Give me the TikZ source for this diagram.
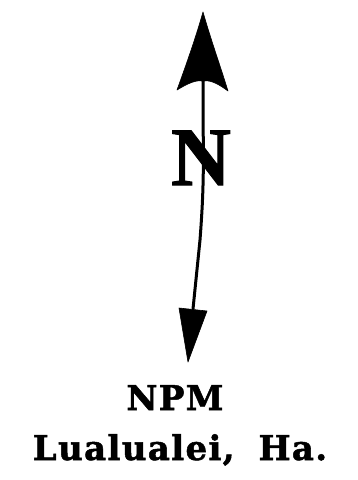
\documentclass[tikz,border=0pt]{standalone}
\usepackage{fontspec}
\newfontfamily\nfont[FakeBold=1.2]{Liberation Serif Bold}
\newfontfamily\lblfont[LetterSpace=4,FakeBold=1.5]{DejaVu Serif Bold}
\begin{document}
\begin{tikzpicture}[x=1pt,y=-1pt,
  lbl/.style={inner sep=0pt,anchor=base,font=\lblfont\fontsize{34}{40}\selectfont},
  bigN/.style={inner sep=0pt,anchor=base,font=\nfont\fontsize{83}{90}\selectfont},
  shaft/.style={line width=3pt,line cap=round},
  head/.style={fill=black,draw=black,line width=0.6pt,line join=round}]
\useasboundingbox (0,0) rectangle (357,480);
% N letter
\node[bigN] (n) at (201,185) {N};
% arrow coordinates
\coordinate (toptip) at (203,12);
\coordinate (topl) at (177,90);
\coordinate (topr) at (228,91);
\coordinate (topbase) at (203,81);
\coordinate (botl) at (179,308);
\coordinate (botr) at (207,311);
\coordinate (bottip) at (188,362);
\coordinate (botbase) at (193,309);
% shaft
\draw[shaft] (topbase) -- (203,120) .. controls (204,175) and (203,200) .. (200,240) -- (botbase);
% heads
\fill[head] (toptip) .. controls (195,40) and (186,65) .. (topl)
  .. controls (190,82) and (197,80) .. (topbase)
  .. controls (209,80) and (216,82) .. (topr)
  .. controls (220,65) and (211,40) .. (toptip) -- cycle;
\fill[head] (botl) -- (botr) -- (bottip) -- cycle;
% labels
\node[lbl] (npm) at (175,410) {NPM};
\node[lbl] (loc) at (180,460) {Lualualei,\hspace{0.7em}Ha.};
\end{tikzpicture}
\end{document}
